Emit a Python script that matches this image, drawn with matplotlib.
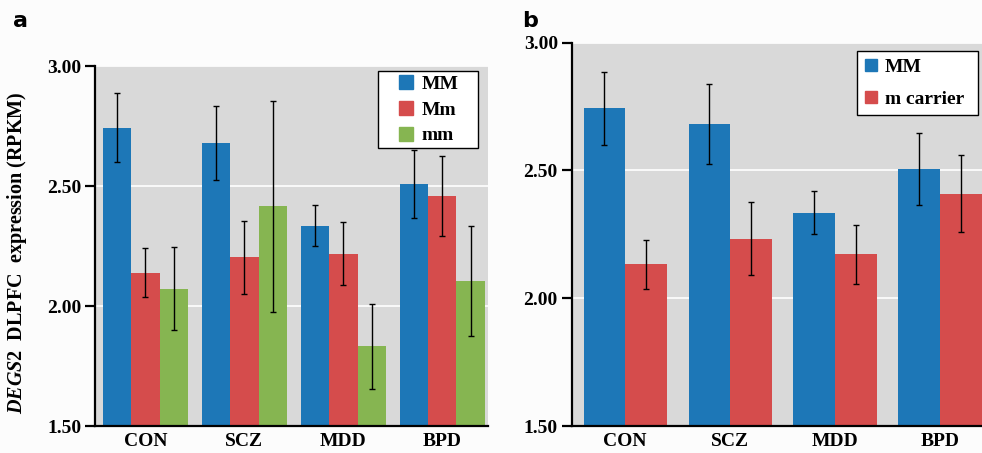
import numpy as np
import matplotlib
matplotlib.use('Agg')
import matplotlib.pyplot as plt
from matplotlib.lines import Line2D

plt.rcParams.update({
    'font.family': 'Liberation Serif', 'font.weight': 'bold',
    'axes.labelweight': 'bold',
    'font.size': 14,
    'mathtext.fontset': 'custom',
    'mathtext.rm': 'Liberation Serif:bold',
    'mathtext.it': 'Liberation Serif:italic:bold',
    'mathtext.bf': 'Liberation Serif:bold',
})

BLUE = '#1d77b7'; RED = '#d54c4c'; GREEN = '#86b551'; GRAY = '#d9d9d9'

groups = ['CON', 'SCZ', 'MDD', 'BPD']

# panel a: three genotypes
a_labels = ['MM', 'Mm', 'mm']
a_MM = [2.743, 2.679, 2.335, 2.507]
a_Mm = [2.139, 2.203, 2.218, 2.457]
a_mm = [2.072, 2.415, 1.833, 2.104]
a_MM_err = [0.144, 0.156, 0.084, 0.141]
a_Mm_err = [0.102, 0.153, 0.130, 0.167]
a_mm_err = [0.174, 0.440, 0.177, 0.228]

# panel b: MM vs m carrier
b_labels = ['MM', 'm carrier']
b_MM = [2.743, 2.681, 2.335, 2.506]
b_m = [2.133, 2.233, 2.172, 2.409]
b_MM_err = [0.143, 0.156, 0.085, 0.141]
b_m_err = [0.095, 0.144, 0.116, 0.150]

yticks = [1.5, 2.0, 2.5, 3.0]


def style_axis(ax):
    ax.set_facecolor(GRAY)
    ax.set_ylim(1.5, 3.0)
    ax.set_yticks(yticks)
    ax.set_yticklabels([f'{v:.2f}' for v in yticks])
    ax.yaxis.grid(True, color='white', lw=1.2)
    ax.set_axisbelow(True)
    for s in ['top', 'right']:
        ax.spines[s].set_visible(False)
    for s in ['left', 'bottom']:
        ax.spines[s].set_linewidth(1.6)
        ax.spines[s].set_color('black')
    ax.tick_params(axis='y', length=7, width=1.6, pad=3, labelsize=14)
    ax.tick_params(axis='x', length=0, pad=5, labelsize=14)


def square_handles(colors, labels, ms):
    return [Line2D([], [], ls='none', marker='s', markersize=ms,
                   markerfacecolor=c, markeredgecolor=c, label=l)
            for c, l in zip(colors, labels)]


fig = plt.figure(figsize=(9.82, 4.53), dpi=100)

# ── panel a ──
ax = fig.add_axes([0.0967, 0.0596, 0.400, 0.7947])
x = np.arange(len(groups))
w = 0.287
ekw = dict(ecolor='black', elinewidth=1.0, capsize=2.5, capthick=1.0)
for k, (vals, errs, col) in enumerate(zip([a_MM, a_Mm, a_mm],
                                          [a_MM_err, a_Mm_err, a_mm_err],
                                          [BLUE, RED, GREEN])):
    ax.bar(x + (k - 1) * w, vals, w, yerr=errs, color=col, error_kw=ekw)
ax.set_xlim(-0.51, 3.46)
ax.set_xticks(x)
ax.set_xticklabels(groups)
style_axis(ax)
ax.set_ylabel(r'$\mathit{DEGS2}$  DLPFC  expression (RPKM)', fontsize=14.5)
ax.yaxis.set_label_coords(-0.168, 0.482)
leg = ax.legend(handles=square_handles([BLUE, RED, GREEN], a_labels, 9.4),
                loc='upper left', bbox_to_anchor=(0.720, 0.0, 0.2545, 0.986),
                mode='expand', borderaxespad=0, fancybox=False, framealpha=1,
                edgecolor='black', handlelength=2.5, handletextpad=-0.45,
                labelspacing=0.43, borderpad=0.2, fontsize=14)
leg.get_frame().set_linewidth(1.0)
fig.text(0.013, 0.940, 'a', family='DejaVu Sans', fontsize=16,
         fontweight='bold', va='baseline')

# ── panel b ──
ax2 = fig.add_axes([0.5822, 0.0596, 0.4178, 0.8461])
w2 = 0.397
for k, (vals, errs, col) in enumerate(zip([b_MM, b_m],
                                          [b_MM_err, b_m_err],
                                          [BLUE, RED])):
    ax2.bar(x + (k - 0.5) * w2, vals, w2, yerr=errs, color=col, error_kw=ekw)
ax2.set_xlim(-0.51, 3.4)
ax2.set_xticks(x)
ax2.set_xticklabels(groups)
style_axis(ax2)
leg2 = ax2.legend(handles=square_handles([BLUE, RED], b_labels, 8.5),
                  loc='upper left', bbox_to_anchor=(0.6946, 0.0, 0.2957, 0.978),
                  mode='expand', borderaxespad=0, fancybox=False,
                  framealpha=1, edgecolor='black', handlelength=0.74,
                  handletextpad=0.33, labelspacing=0.71, borderpad=0.38,
                  fontsize=14)
leg2.get_frame().set_linewidth(1.0)
fig.text(0.532, 0.940, 'b', family='DejaVu Sans', fontsize=16,
         fontweight='bold', va='baseline')

fig.savefig('out.png', dpi=100, facecolor='#fcfcfc')
